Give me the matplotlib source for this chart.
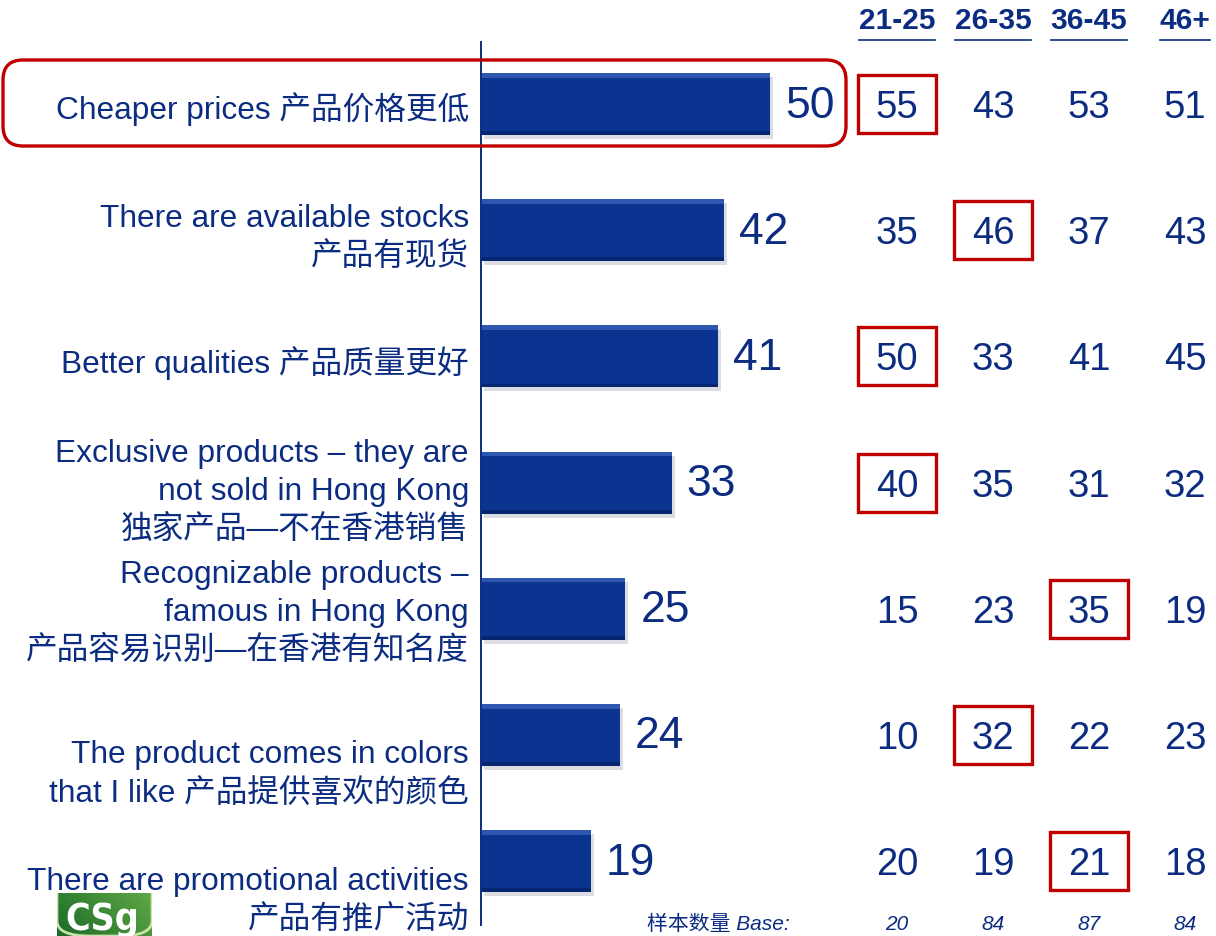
import matplotlib
matplotlib.use("Agg")
import matplotlib.pyplot as plt
import matplotlib.transforms as mtransforms
from matplotlib.patches import FancyBboxPatch, Rectangle
from matplotlib.lines import Line2D
import numpy as np

plt.rcParams['font.family'] = ['Liberation Sans', 'Noto Sans CJK SC', 'DejaVu Sans']

# ---- data ----
categories = [
    ["Cheaper prices 产品价格更低"],
    ["There are available stocks", "产品有现货"],
    ["Better qualities 产品质量更好"],
    ["Exclusive products – they are", "not sold in Hong Kong", "独家产品—不在香港销售"],
    ["Recognizable products –", "famous in Hong Kong", "产品容易识别—在香港有知名度"],
    ["The product comes in colors", "that I like 产品提供喜欢的颜色"],
    ["There are promotional activities", "产品有推广活动"],
]
totals = [50, 42, 41, 33, 25, 24, 19]
age_groups = ["21-25", "26-35", "36-45", "46+"]
by_age = [
    [55, 43, 53, 51],
    [35, 46, 37, 43],
    [50, 33, 41, 45],
    [40, 35, 31, 32],
    [15, 23, 35, 19],
    [10, 32, 22, 23],
    [20, 19, 21, 18],
]
highlight_col = [0, 1, 0, 0, 2, 1, 2]
base_label = "样本数量 Base:"
base_sizes = [20, 84, 87, 84]

# ---- layout ----
W, H = 1216, 936
NAVY = '#0b2c80'
BAR = '#0a3490'
RED = '#c00000'
PX_X = 5.78          # pixels per percentage point
ROW = 126.2          # pixels per category row
X0 = 481             # pixel position of the zero line
Y0 = 104             # pixel position of the first row centre
col_px = [897, 993, 1089, 1185]

fig = plt.figure(figsize=(W / 100, H / 100), dpi=100)
fig.patch.set_facecolor('white')
ax = fig.add_axes([0, 0, 1, 1])
ax.set_xlim(-X0 / PX_X, (W - X0) / PX_X)
ax.set_ylim((H - Y0) / ROW, -Y0 / ROW)
ax.axis('off')

def off(dx=0, dy=0):
    return mtransforms.offset_copy(ax.transData, fig, x=dx, y=dy, units='dots')

rows = np.arange(len(totals))
bh = 0.49

# drop shadow
shadow = ax.barh(rows, totals, height=bh, color='#9aa0b0', alpha=0.35,
                 edgecolor='none', zorder=2)
for p in shadow:
    p.set_transform(off(3, -4))
# main bars
ax.barh(rows, totals, height=bh, color=BAR, edgecolor='none', zorder=3)
# bevel highlights
ax.barh(rows - bh / 2 + 0.018, totals, height=0.036, color='#4a6fc4',
        alpha=0.6, edgecolor='none', zorder=4)
ax.barh(rows + bh / 2 - 0.015, totals, height=0.03, color='#06236a',
        alpha=0.8, edgecolor='none', zorder=4)

# zero line
ax.axvline(0, ymin=1 - 925 / H, ymax=1 - 42 / H, color=NAVY, lw=1.4, zorder=5)

# value labels
for i, v in enumerate(totals):
    ax.text(v, i, str(v), transform=off(15, -2), ha='left', va='center',
            fontsize=32, color=NAVY, zorder=6)

# category labels
label_shift = [3, 4, 5, 6, 1, 36, 36]
line_gap = 38
for i, lines in enumerate(categories):
    n = len(lines)
    for k, line in enumerate(lines):
        centre = label_shift[i] + (k - (n - 1) / 2) * line_gap
        ax.text(-12 / PX_X, i, line, transform=off(0, -(centre + 11.5)),
                ha='right', va='baseline', fontsize=22.8, color=NAVY)

# age-group table
col_x = [(c - X0) / PX_X for c in col_px]
box_w = 78 / PX_X
box_h = 58 / ROW
for i, vals in enumerate(by_age):
    for j, v in enumerate(vals):
        ax.text(col_x[j], i, str(v), transform=off(0, -4), ha='center',
                va='center', fontsize=27.5, color=NAVY)
    j = highlight_col[i]
    ax.add_patch(Rectangle((col_x[j] - box_w / 2, i - box_h / 2), box_w, box_h,
                           fill=False, ec=RED, lw=2.4, zorder=6))

# headers with underline
header_texts = []
for j, g in enumerate(age_groups):
    t = fig.text(col_px[j] / W, 1 - 21 / H, g, ha='center', va='center',
                 fontsize=21.5, fontweight='bold', color=NAVY)
    header_texts.append(t)

# base row
fig.text(790 / W, 1 - 924 / H, base_label, ha='right', va='center',
         fontsize=15, style='italic', color=NAVY)
for j, b in enumerate(base_sizes):
    fig.text(col_px[j] / W, 1 - 924 / H, str(b), ha='center', va='center',
             fontsize=15, style='italic', color=NAVY)

# rounded highlight around the first row
fig.add_artist(FancyBboxPatch((3, H - 146), 843, 86,
                              boxstyle='round,pad=0,rounding_size=20',
                              transform=mtransforms.IdentityTransform(),
                              fill=False, ec=RED, lw=2.4, zorder=10))

# logo
lax = fig.add_axes([57 / W, 0, 95 / W, 43 / H])
gx = np.linspace(0, 1, 120)
gy = np.linspace(0, 1, 60)
GX, GY = np.meshgrid(gx, gy)
t = np.clip(0.55 * GX + 0.25 * GY, 0, 1)
c0 = np.array([0.10, 0.42, 0.16])
c1 = np.array([0.45, 0.72, 0.30])
img = c0[None, None, :] * (1 - t[..., None]) + c1[None, None, :] * t[..., None]
lax.imshow(img, origin='lower', extent=[0, 1, 0, 1], aspect='auto')
corner = FancyBboxPatch((0, 0), 1, 1.4, boxstyle='round,pad=0,rounding_size=0.35',
                        transform=lax.transAxes, fc='none', ec='#c8e3a8', lw=2)
lax.add_patch(corner)
lax.text(0.48, 0.80, "CSg", transform=lax.transAxes, ha='center', va='top',
         fontsize=27, fontweight='bold', fontstretch='condensed', color='white',
         family='DejaVu Sans')
lax.set_xlim(0, 1)
lax.set_ylim(0, 1)
lax.axis('off')

# underline headers
fig.canvas.draw()
renderer = fig.canvas.get_renderer()
for t_ in header_texts:
    bb = t_.get_window_extent(renderer)
    fig.add_artist(Line2D([bb.x0, bb.x1], [H - 40, H - 40], color=NAVY, lw=1.2,
                          transform=mtransforms.IdentityTransform()))

fig.savefig('out.png', dpi=100, facecolor='white')
